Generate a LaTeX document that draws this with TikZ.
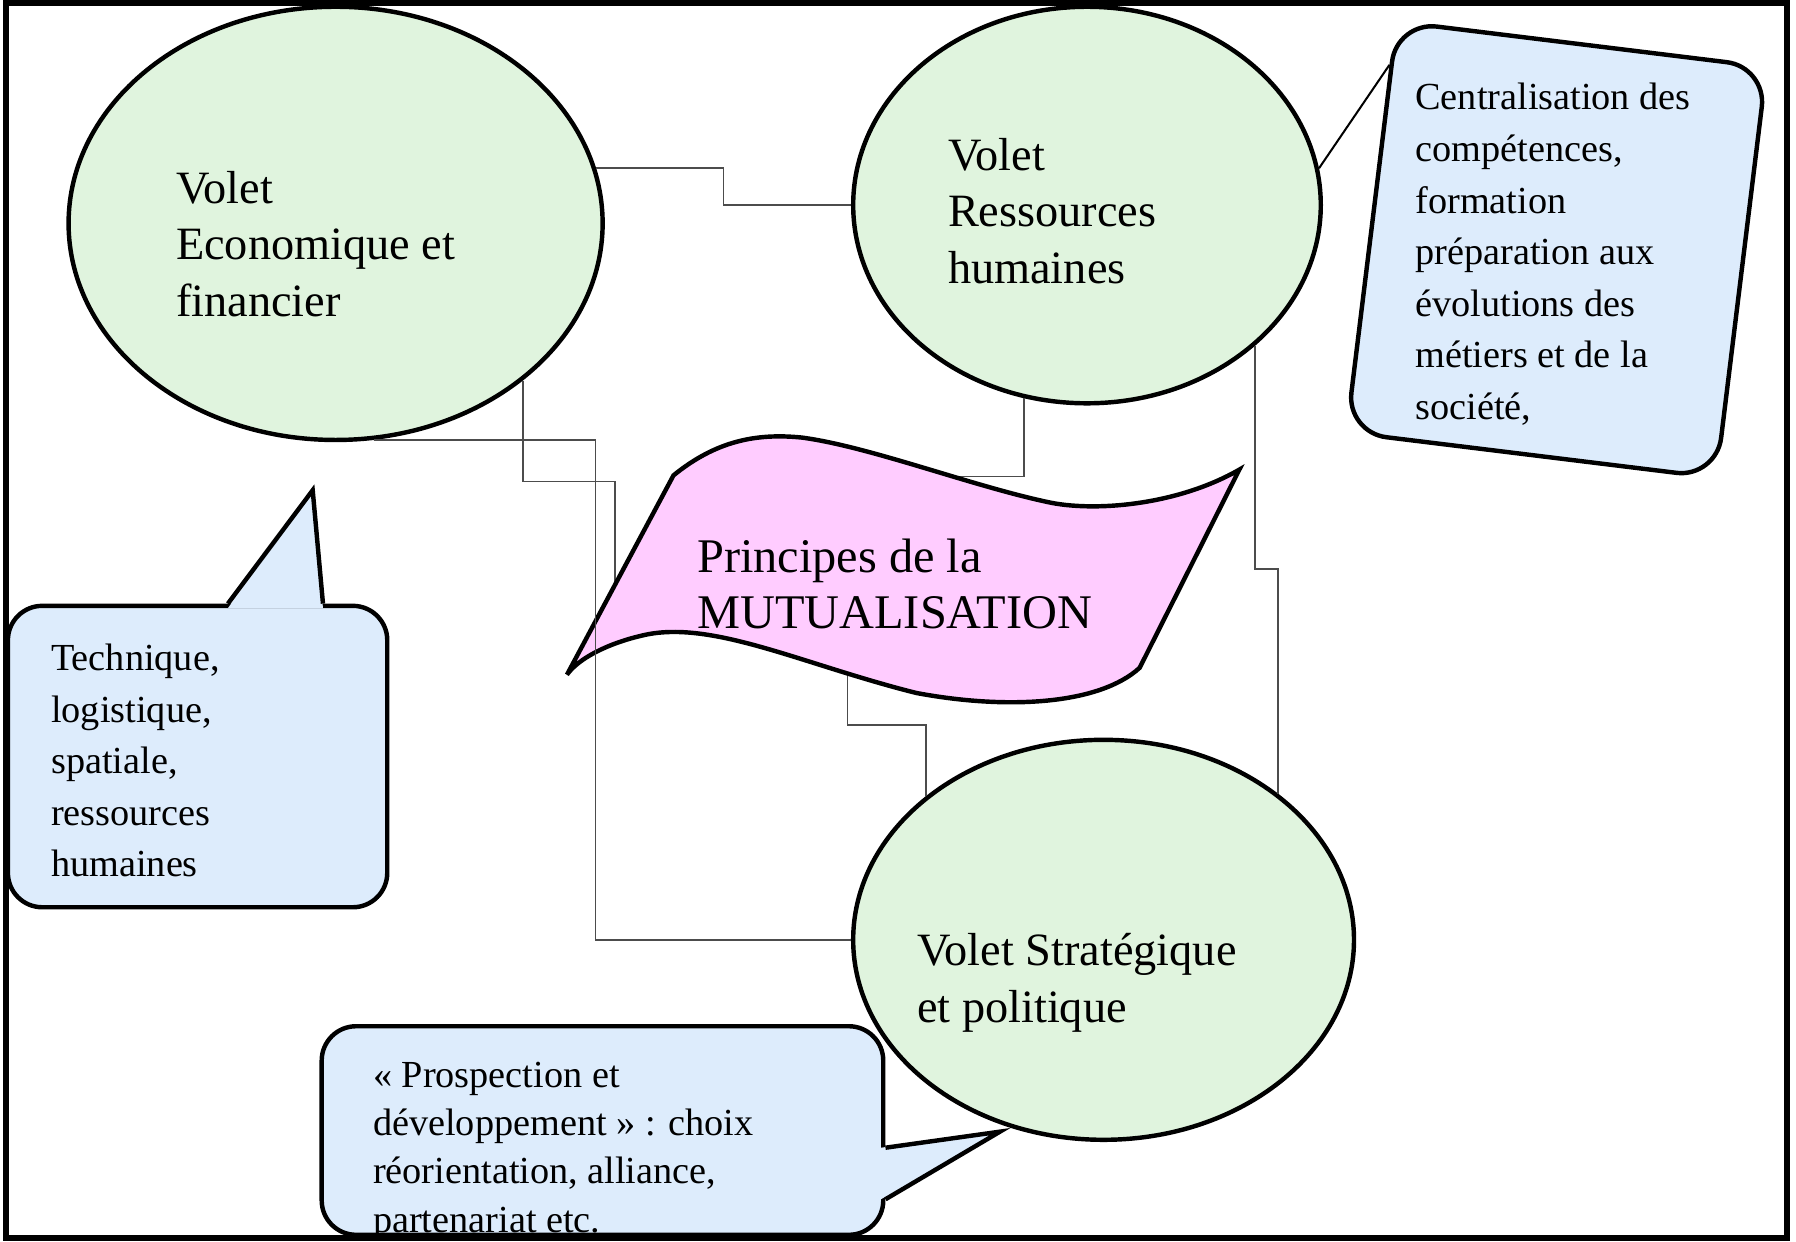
\documentclass[tikz,border=0pt]{standalone}
\usepackage{fontspec}
\setmainfont{Liberation Serif}
\usetikzlibrary{shapes.geometric,calc}
\definecolor{voletgreen}{RGB}{224,244,222}
\definecolor{bulleblue}{RGB}{221,236,252}
\definecolor{flagpink}{RGB}{255,204,255}

\begin{document}
\begin{tikzpicture}[x=0.01cm,y=-0.01cm,
	volet/.style={ellipse,draw,line width=1.1pt,fill=voletgreen,inner sep=0pt},
	bulle/.style={rectangle,rounded corners=0.3cm,draw,line width=1.1pt,fill=bulleblue,inner sep=0pt},
	rim/.style={line width=1.1pt,line join=miter},
	link/.style={draw=black!70,line width=0.4pt},
	big/.style={font=\fontsize{11.5}{14}\selectfont,align=left,anchor=west,inner sep=0pt},
	small/.style={font=\fontsize{9.5}{12.8}\selectfont,align=left,anchor=west,inner sep=0pt}]
	\useasboundingbox (0,0) rectangle (1568,1084);

	% bulles et volets
	\node[volet,minimum width=4.66cm,minimum height=3.78cm] (eco) at (293,195) {};
	\node[volet,minimum width=4.08cm,minimum height=3.46cm] (rh) at (949,179) {};
	\node[bulle,rotate=-7,minimum width=3.25cm,minimum height=3.61cm,rounded corners=0.35cm] (centr) at (1359,218) {};
	\node[bulle,minimum width=3.31cm,minimum height=2.63cm] (tech) at (172.5,660.5) {};
	\node[bulle,minimum width=4.90cm,minimum height=1.82cm] (prosp) at (526,987) {};
	\node[volet,minimum width=4.37cm,minimum height=3.49cm] (strat) at (963.5,820.5) {};

	\coordinate (techtip) at (273,428);
	\fill[bulleblue] ($(tech.north west)+(194,4)$) -- (techtip) -- ($(tech.north west)+(277,4)$) -- cycle;
	\draw[rim] ($(tech.north west)+(194,0)$) -- (techtip) -- ($(tech.north west)+(277,0)$);
	\coordinate (prosptip) at (873,988);
	\fill[bulleblue] ($(prosp.north east)+(-4,108)$) -- (prosptip) -- ($(prosp.north east)+(-4,153)$) -- cycle;
	\draw[rim] ($(prosp.north east)+(0,108)$) -- (prosptip) -- ($(prosp.north east)+(0,153)$);

	\node[big] (ecotxt) at (153,213) {Volet\\Economique et\\financier};
	\node[big] (rhtxt) at (827,184) {Volet\\Ressources\\humaines};
	\node[big] (strattxt) at (800,858) {Volet Stratégique\\et politique};
	\node[small] (techtxt) at (44,664) {Technique,\\logistique,\\spatiale,\\ressources\\humaines};
	\node[small] (centrtxt) at (1235,222) {Centralisation des\\compétences,\\formation\\préparation aux\\évolutions des\\métiers et de la\\société,};
	\node[small,font=\fontsize{9.5}{12}\selectfont] (prosptxt) at (325,1005) {« Prospection et\\développement » : choix\\réorientation, alliance,\\partenariat etc.};

	% liaisons vers le drapeau
	\coordinate (flagA) at (537,530);
	\coordinate (flagB) at (800,416);
	\coordinate (flagC) at (740,575);
	\draw[link] (eco.-40) -- ++(0,88) -| (flagA);
	\draw[link] (rh.-108) |- (flagB);
	\draw[link] (flagC) -- ++(0,58) -| (strat.141);

	\filldraw[rim,fill=flagpink] (495,589) -- (588,415) .. controls (625,385) and (660,378) .. (700,382)
		.. controls (760,390) and (850,425) .. (918,439) .. controls (960,447) and (1030,440) .. (1082,410)
		-- (995,583) .. controls (960,615) and (880,620) .. (800,605)
		.. controls (700,580) and (620,540) .. (560,555) .. controls (530,562) and (505,575) .. (495,589) -- cycle;
	\node[big,font=\fontsize{12}{14}\selectfont] (princ) at (608,510) {Principes de la\\MUTUALISATION};

	\coordinate (acbend) at (520,600);
	\draw[link] (eco.12) -| ($(eco.12)!.5!(rh.west)$) |- (rh.west);
	\draw[link] (eco.-80) -| (acbend) |- (strat.west);
	\draw[link] (rh.-40) -- ++(0,195) -| (strat.40);
	\draw[line width=0.5pt] (rh.9) -- ($(centr.north west)!0.11!(centr.south west)$);

	\draw[line width=1.5pt] (5.5,2.5) rectangle (1560,1080.5);
\end{tikzpicture}
\end{document}
